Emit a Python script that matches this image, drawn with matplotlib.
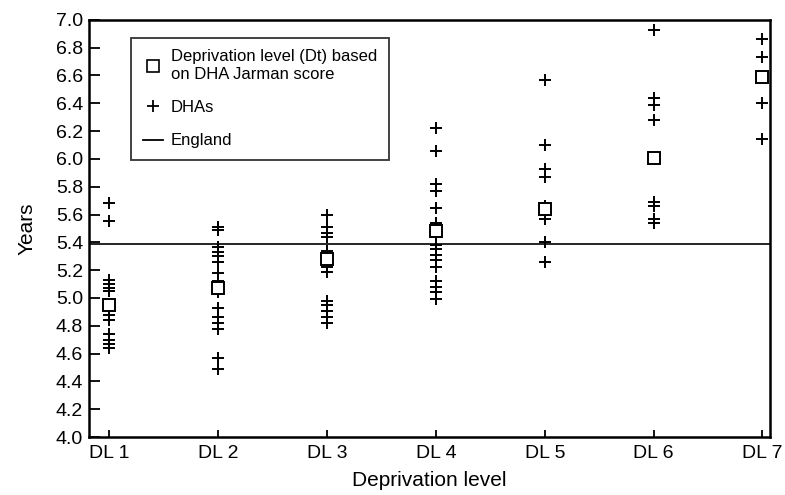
import numpy as np
import matplotlib
matplotlib.use('Agg')
import matplotlib.pyplot as plt
from matplotlib.lines import Line2D

plt.rcParams['font.family'] = ['Liberation Sans', 'DejaVu Sans']

# Data
levels = ['DL 1', 'DL 2', 'DL 3', 'DL 4', 'DL 5', 'DL 6', 'DL 7']
dt_level = [4.95, 5.07, 5.28, 5.48, 5.64, 6.01, 6.59]  # squares
dha_1 = [5.68, 5.55, 5.13, 5.10, 5.07, 5.05, 4.92, 4.88, 4.84, 4.74, 4.70, 4.67, 4.64]
dha_2 = [5.51, 5.49, 5.37, 5.33, 5.30, 5.26, 5.18, 5.12, 5.08, 5.04, 4.93, 4.86, 4.82, 4.78, 4.57, 4.49]
dha_3 = [5.60, 5.51, 5.47, 5.44, 5.34, 5.31, 5.27, 5.22, 5.19, 4.98, 4.95, 4.91, 4.86, 4.82]
dha_4 = [6.22, 6.06, 5.82, 5.77, 5.65, 5.54, 5.50, 5.46, 5.38, 5.35, 5.31, 5.27, 5.22, 5.12, 5.08, 5.04, 4.99]
dha_5 = [6.57, 6.10, 5.93, 5.87, 5.66, 5.60, 5.57, 5.40, 5.26]
dha_6 = [6.93, 6.44, 6.39, 6.28, 5.69, 5.66, 5.57, 5.54]
dha_7 = [6.86, 6.73, 6.40, 6.14]
england = 5.39

dhas = [dha_1, dha_2, dha_3, dha_4, dha_5, dha_6, dha_7]

fig = plt.figure(figsize=(7.85, 4.95), dpi=100)
ax = fig.add_axes([0.113, 0.117, 0.868, 0.843])

ax.axhline(england, color='black', lw=1.2, zorder=1)

for i, vals in enumerate(dhas):
    ax.plot([i + 1] * len(vals), vals, linestyle='none', marker='+',
            color='black', markersize=8, markeredgewidth=1.4, zorder=2)

ax.plot(np.arange(1, 8), dt_level, linestyle='none', marker='s',
        markerfacecolor='white', markeredgecolor='black', markersize=9,
        markeredgewidth=1.4, zorder=3)

ax.set_xlim(0.81, 7.07)
ax.set_ylim(4.0, 7.0)
ax.set_xticks(np.arange(1, 8))
ax.set_xticklabels(levels)
ax.set_yticks(np.arange(4.0, 7.01, 0.2))
ax.set_yticklabels(['%.1f' % v for v in np.arange(4.0, 7.01, 0.2)])
ax.tick_params(axis='both', direction='in', length=8, width=1.3,
               labelsize=14, colors='black')
ax.tick_params(axis='x', length=5, pad=6)
ax.tick_params(axis='y', pad=4)
for s in ax.spines.values():
    s.set_linewidth(1.8)

ax.set_xlabel('Deprivation level', fontsize=15, labelpad=6)
ax.set_ylabel('Years', fontsize=15, labelpad=14)

handles = [
    Line2D([], [], linestyle='none', marker='s', markerfacecolor='white',
           markeredgecolor='black', markersize=9, markeredgewidth=1.2),
    Line2D([], [], linestyle='none', marker='+', color='black',
           markersize=9, markeredgewidth=1.3),
    Line2D([], [], color='black', lw=1.3),
]
labels = ['Deprivation level (Dt) based\non DHA Jarman score', 'DHAs', 'England']
leg = ax.legend(handles, labels, loc='upper left', bbox_to_anchor=(0.062, 0.957),
                fontsize=12, frameon=True, fancybox=False, edgecolor='black',
                labelspacing=1.1, handlelength=1.2, handletextpad=0.5,
                borderpad=0.7, borderaxespad=0)
leg.get_frame().set_linewidth(1.3)

fig.savefig('out.png', dpi=100)
